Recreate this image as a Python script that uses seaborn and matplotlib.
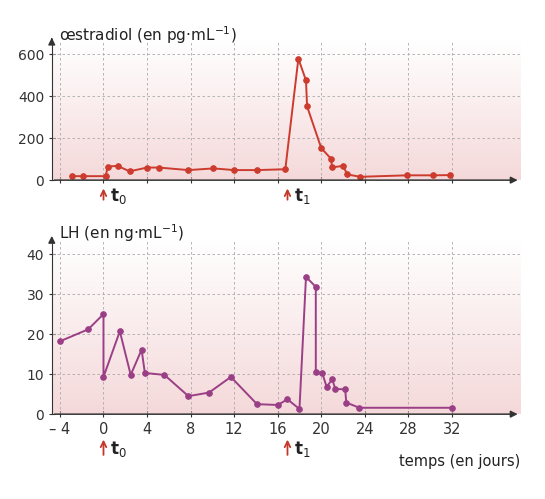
import numpy as np
import pandas as pd
import matplotlib
matplotlib.use('Agg')
import matplotlib.pyplot as plt
import seaborn as sns
from matplotlib.colors import LinearSegmentedColormap

# Données
jours_e2 = [-2.9, -1.9, 0.2, 0.4, 1.3, 2.4, 4.0, 5.1, 7.8, 10.1, 12.0, 14.1, 16.7,
            17.9, 18.6, 18.7, 20.0, 20.9, 21.0, 22.0, 22.4, 23.6, 27.9, 30.3, 31.8]
oestradiol = [19, 19, 19, 65, 68, 42, 60, 60, 48, 56, 48, 48, 52,
              580, 476, 352, 153, 102, 61, 68, 27, 16, 23, 23, 24]

jours_lh = [-4.0, -1.4, 0.0, 0.0, 1.5, 2.5, 3.5, 3.8, 5.6, 7.8, 9.7, 11.7, 14.1,
            16.0, 16.9, 18.0, 18.6, 19.5, 19.5, 20.1, 20.5, 21.0, 21.3, 22.2, 22.3, 23.5, 32.0]
lh = [18.2, 21.2, 25.0, 9.3, 20.7, 9.8, 16.1, 10.3, 9.8, 4.5, 5.4, 9.3, 2.5,
      2.3, 3.7, 1.3, 34.3, 31.8, 10.6, 10.2, 6.8, 8.7, 6.3, 6.2, 2.9, 1.6, 1.6]

xticks = [-4, 0, 4, 8, 12, 16, 20, 24, 28, 32]
xticklabels = ['– 4', '0', '4', '8', '12', '16', '20', '24', '28', '32']

sns.set_style('white')
plt.rcParams['font.family'] = ['DejaVu Sans']

fig = plt.figure(figsize=(5.45, 4.99), dpi=100)
ax1 = fig.add_axes([0.095, 0.639, 0.86, 0.28])
ax2 = fig.add_axes([0.095, 0.170, 0.86, 0.349])

rose = LinearSegmentedColormap.from_list('rose', ['#f5d9da', '#ffffff'])
grad = np.linspace(0, 1, 100).reshape(-1, 1)


def preparer(ax, ymax, yticks, couleur, x, y, titre):
    ax.imshow(grad, extent=[-4.75, 38.3, 0, ymax], aspect='auto', cmap=rose,
              origin='lower', zorder=0)
    df = pd.DataFrame({'x': x, 'y': y})
    sns.lineplot(data=df, x='x', y='y', sort=False, estimator=None, color=couleur,
                 marker='o', markersize=4, markeredgecolor=couleur, lw=1.4,
                 ax=ax, zorder=3)
    ax.set_xlim(-4.75, 38.3)
    ax.set_ylim(0, ymax)
    ax.set_xticks(xticks)
    ax.set_yticks(yticks)
    for v in xticks:
        ax.axvline(v, color='#aaaaaa', ls=(0, (3, 3)), lw=0.6, zorder=1)
    for v in yticks[1:]:
        ax.axhline(v, color='#aaaaaa', ls=(0, (3, 3)), lw=0.6, zorder=1)
    for s in ['top', 'right', 'bottom']:
        ax.spines[s].set_visible(False)
    ax.spines['left'].set_color('#333333')
    ax.annotate('', xy=(1.0, 0), xytext=(0, 0), xycoords='axes fraction',
                arrowprops=dict(arrowstyle='-|>', color='#333333', lw=1.1))
    ax.annotate('', xy=(0, 1.04), xytext=(0, 0.98), xycoords='axes fraction',
                arrowprops=dict(arrowstyle='-|>', color='#333333', lw=1.1))
    ax.tick_params(axis='both', length=4, direction='inout', colors='#333333',
                   labelsize=10, bottom=True, left=True)
    ax.set_xlabel('')
    ax.set_ylabel('')
    ax.text(0.015, 1.04, titre, transform=ax.transAxes, fontsize=11, va='center',
            color='#222222')


preparer(ax1, 667, [0, 200, 400, 600], '#cc3b2e', jours_e2, oestradiol,
         'œstradiol (en pg·mL$^{-1}$)')
ax1.set_xticklabels([])
preparer(ax2, 43.5, [0, 10, 20, 30, 40], '#9a3f86', jours_lh, lh,
         'LH (en ng·mL$^{-1}$)')
ax2.set_xticklabels(xticklabels, fontsize=10.5)

for ax, yoff in [(ax1, -0.11), (ax2, -0.2)]:
    for t, lab in [(0, '$\\mathbf{t}_0$'), (16.9, '$\\mathbf{t}_1$')]:
        ax.annotate('', xy=(t, yoff + 0.07), xytext=(t, yoff - 0.05),
                    xycoords=('data', 'axes fraction'),
                    arrowprops=dict(arrowstyle='->', color='#c0392b', lw=1.3))
        ax.text(t + 0.6, yoff, lab, transform=ax.get_xaxis_transform(),
                fontsize=12, va='center', color='#222222')

ax2.text(1.0, -0.27, 'temps (en jours)', transform=ax2.transAxes, ha='right',
         va='center', fontsize=10.5, color='#222222')

plt.savefig('out.png', dpi=100, facecolor='white')
plt.close()
